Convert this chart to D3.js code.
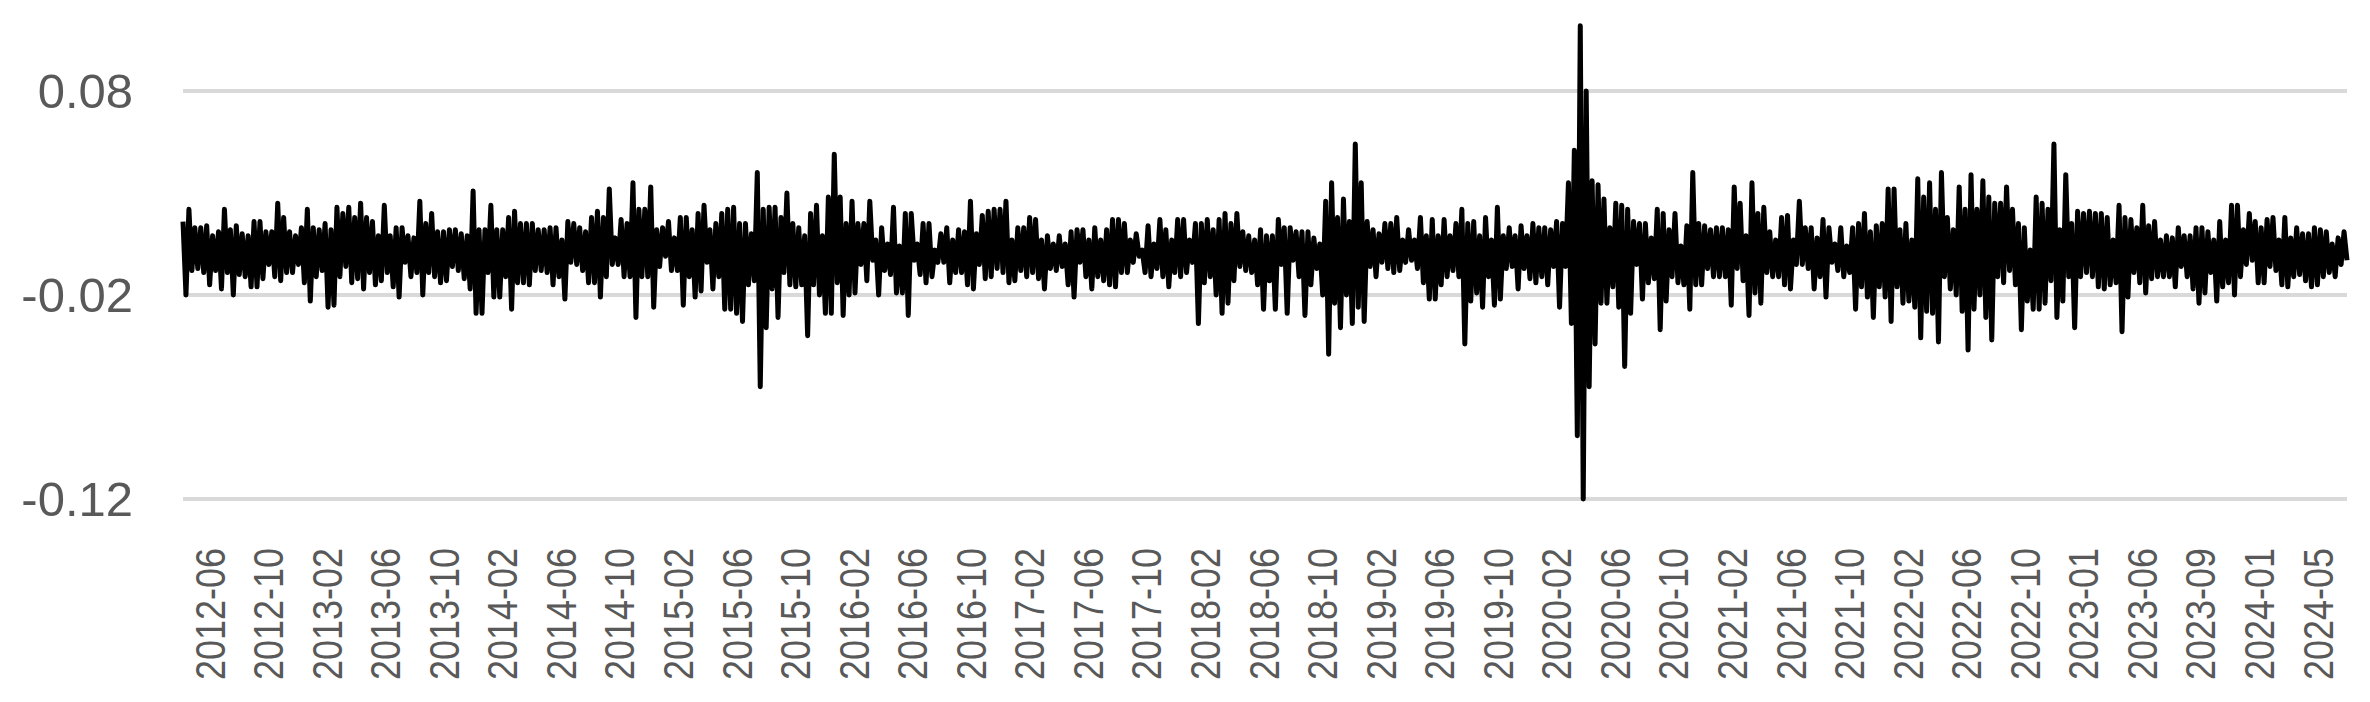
<!DOCTYPE html>
<html>
<head>
<meta charset="utf-8">
<script src="https://cdn.jsdelivr.net/npm/d3@7"></script>
<style>
  html, body { margin: 0; padding: 0; background: #fff; }
</style>
</head>
<body>
<div id="chart"></div>
<script>
// daily returns in 1e-3 units (alternating upper / lower swings)
var ret2012 = [16,-20,22,-8,13,-7,13,-9,14,-15,9,-8,11,-17,22,-9,12,-20,14,-10,10,-11,9,-16,16,-16,16,-12,11,-5,11,-11,
  25,-13,18,-9,11,-9,9,-5,13,-14,22,-23,13,-11,12,-8,15,-26,12,-25,23,-11,20,-6,23,-14,18,-12,25,-17,18,-9,16,-15,9,-13,
  24,-9,9,-16,13,-21,13,-4,9,-11,8,-9,26,-20,15,-9,20,-11,11,-14,11,-13,12,-6];
var ret2014 = [12,-8,10,-12,9,-17,31,-29,12,-29,12,-9,24,-21,12,-21,12,-11,18,-27,21,-14,15,-14,15,-15,15,-8,12,-8,12,-9,
  13,-15,13,-11,7,-22,16,-4,15,-5,13,-8,11,-14,18,-14,21,-21,18,-11,32,-5,8,-5,17,-11,15,-11,35,-31,22,-11,22,-11,33,-26,
  12,-6,13,-1,16,-8,8,-8,18,-25,18,-11,12,-21,20,-18,24,-4,12,-17,15,-11,20,-27];
var ret2015 = [22,-27,23,-29,15,-33,15,-15,10,-13,40,-65,22,-36,23,-17,23,-31,18,-9,30,-15,15,-16,13,-15,9,-40,20,-15,24,-20,
  9,-29,28,-29,49,-14,28,-30,15,-20,26,-19,15,-5,15,-13,26,-3,7,-20,13,-8,5,-10,23,-19,4,-19,20,-30,20,-3,5,-10,15,-14,
  15,-11,2,-4,10,-4,13,-14,7,-9,12,-9,11,-15,26,-17,10,-5,19,-12,21,-11,22,-7];
var ret2017 = [22,-9,26,-14,7,-13,13,-8,13,-11,18,-9,17,-12,7,-17,9,-7,5,-8,9,-6,5,-15,11,-21,12,-4,12,-11,7,-17,
  13,-11,7,-13,12,-15,17,-16,17,-9,15,-9,7,-4,10,-1,2,-9,14,-11,5,-7,17,-11,12,-16,7,-9,17,-11,17,-9,7,-4,15,-34,
  15,-14,17,-11,12,-20,17,-29,20,-24,15,-13,20,-6,11,-8,9,-9,7,-15,12,-27,9,-13];
var ret2018 = [9,-27,17,-5,13,-29,13,-3,11,-11,11,-30,11,-15,8,-7,5,-20,26,-49,35,-24,18,-36,27,-20,16,-34,54,-26,35,-33,
  16,-6,12,-11,10,-4,15,-7,15,-9,18,-8,7,-4,12,-3,7,-7,18,-14,9,-22,17,-22,9,-15,17,-11,9,-8,15,-11,22,-44,15,-23,
  16,-19,9,-26,18,-11,7,-25,23,-22,9,-7,13,-6,9,-17,14,-7,9,-12,15,-14,13,-11];
var ret2020 = [13,-15,12,-6,16,-26,15,-6,35,-34,51,-89,112,-120,80,-65,36,-44,34,-24,27,-24,13,-16,25,-26,24,-55,22,-29,16,-5,
  15,-22,15,-14,8,-12,22,-37,20,-23,12,-11,20,-14,4,-15,14,-27,40,-15,15,-15,14,-7,12,-11,13,-11,13,-11,12,-25,33,-7,
  25,-13,9,-30,35,-19,20,-24,23,-9,11,-11,7,-11,18,-15,19,-17,7,-5,26,-5,13,-7,13,-17];
var ret2021 = [8,-11,17,-21,13,-4,5,-8,13,-11,4,-9,13,-27,15,-16,20,-21,11,-31,14,-16,15,-21,32,-33,32,-16,12,-24,15,-23,
  7,-26,37,-41,28,-28,35,-29,22,-43,40,-11,18,-17,12,-20,33,-28,22,-47,39,-27,22,-20,36,-31,28,-42,25,-11,25,-14,33,-8,
  22,-15,15,-37,13,-23,2,-27,28,-27,25,-24,22,-13,54,-31,12,-23,39,-11,15,-36,21,-11,20,-9];
var ret2023 = [21,-11,20,-16,20,-17,18,-15,7,-14,24,-38,18,-21,17,-9,13,-14,24,-19,14,-12,16,-11,7,-11,9,-11,8,-16,13,-6,
  9,-11,9,-17,13,-24,13,-19,11,-9,7,-23,16,-16,7,-14,24,-20,24,-11,12,-5,20,-3,16,-14,13,-14,17,-6,18,-8,7,-15,
  18,-16,8,-11,13,-10,10,-13,10,-16,13,-15,12,-11,11,-9,5,-11,8,-5,11,-3];

var tickLabels = ["2012-06","2012-10","2013-02","2013-06","2013-10","2014-02","2014-06","2014-10",
  "2015-02","2015-06","2015-10","2016-02","2016-06","2016-10","2017-02","2017-06","2017-10",
  "2018-02","2018-06","2018-10","2019-02","2019-06","2019-10","2020-02","2020-06","2020-10",
  "2021-02","2021-06","2021-10","2022-02","2022-06","2022-10","2023-01","2023-06","2023-09",
  "2024-01","2024-05"];
var yTicks = [-0.12, -0.02, 0.08];

var data = [].concat(ret2012, ret2014, ret2015, ret2017, ret2018, ret2020, ret2021, ret2023)
  .map(function(d) { return d / 1000; });

var width = 2370, height = 702;
var plot = {left: 183, right: 2347, top: 91, bottom: 499};

var svg = d3.select("#chart").append("svg")
  .attr("width", width)
  .attr("height", height)
  .style("display", "block");

var x = d3.scaleLinear()
  .domain([0, data.length - 1])
  .range([plot.left, plot.right]);

var y = d3.scaleLinear()
  .domain([-0.12, 0.08])
  .range([plot.bottom, plot.top]);

var xLab = d3.scalePoint()
  .domain(tickLabels)
  .range([210, 2318]);

// gridlines
svg.append("g").attr("class", "grid")
  .selectAll("line")
  .data(yTicks)
  .enter().append("line")
  .attr("x1", plot.left)
  .attr("x2", plot.right)
  .attr("y1", function(d) { return y(d); })
  .attr("y2", function(d) { return y(d); })
  .attr("stroke", "#d9d9d9")
  .attr("stroke-width", 4);

// y labels (plain hyphen for the minus, like the original)
svg.append("g").attr("class", "ylabels")
  .selectAll("text")
  .data(yTicks)
  .enter().append("text")
  .attr("x", 133)
  .attr("y", function(d) { return y(d); })
  .attr("text-anchor", "end")
  .attr("dominant-baseline", "central")
  .style("font-family", "'Liberation Sans', Arial, sans-serif")
  .style("font-size", "49px")
  .style("fill", "#595959")
  .text(function(d) { return d3.format(".2f")(d).replace("\u2212", "-"); });

// x labels
svg.append("g").attr("class", "xlabels")
  .selectAll("text")
  .data(tickLabels)
  .enter().append("text")
  .attr("transform", function(d) { return "translate(" + xLab(d) + ",548) rotate(-90)"; })
  .attr("text-anchor", "end")
  .attr("dominant-baseline", "central")
  .attr("textLength", 132)
  .attr("lengthAdjust", "spacingAndGlyphs")
  .style("font-family", "'Liberation Sans', Arial, sans-serif")
  .style("font-size", "42px")
  .style("fill", "#595959")
  .text(function(d) { return d; });

// return series
var line = d3.line()
  .x(function(d, i) { return x(i); })
  .y(function(d) { return y(d); });

svg.append("path")
  .datum(data)
  .attr("d", line)
  .attr("fill", "none")
  .attr("stroke", "#000")
  .attr("stroke-width", 5)
  .attr("stroke-linejoin", "round");
</script>
</body>
</html>
